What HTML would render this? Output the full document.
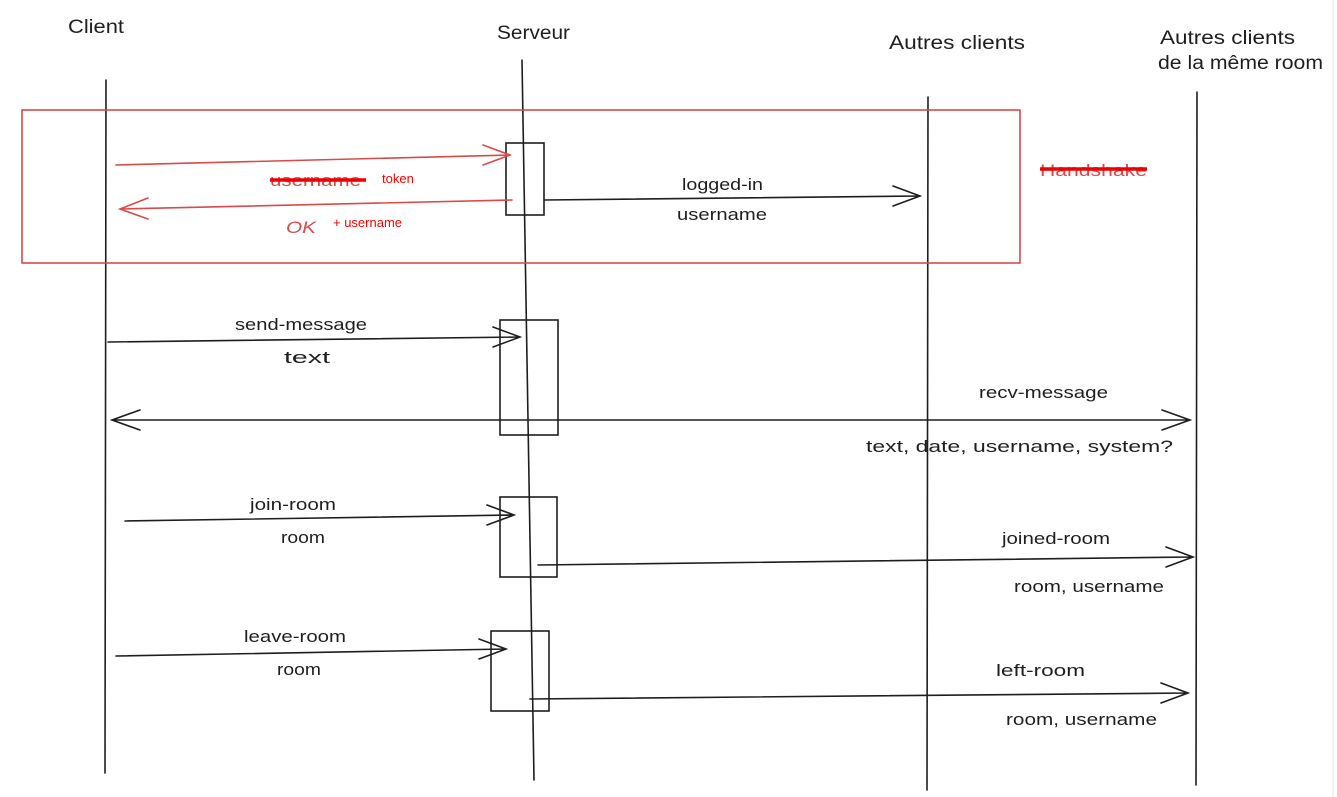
<!DOCTYPE html>
<html><head><meta charset="utf-8"><style>
html,body{margin:0;padding:0;background:#fff;width:1337px;height:797px;overflow:hidden}
svg text{font-family:"Liberation Sans",sans-serif}
</style></head><body>
<svg width="1337" height="797" xmlns="http://www.w3.org/2000/svg">
<g stroke="#1e1e1e" stroke-width="1.6" fill="none" stroke-linecap="round">
<line x1="106" y1="80" x2="105" y2="773"/>
<line x1="522" y1="60" x2="534" y2="780"/>
<line x1="928" y1="97" x2="927" y2="790"/>
<line x1="1197" y1="92" x2="1196" y2="785"/>
<rect x="506" y="143" width="38" height="72"/>
<rect x="500" y="320" width="58" height="115"/>
<rect x="500" y="497" width="57" height="80"/>
<rect x="491" y="631" width="58" height="80"/>
<path d="M544 200 L920 196 M893 186 L920 196 L893 206"/>
<path d="M108 342 L520 337 M493 327 L520 337 L493 347"/>
<path d="M112 420 L1190 420 M140 410 L112 420 L140 430 M1162 410 L1190 420 L1162 430"/>
<path d="M125 521 L514 515 M487 505 L514 515 L487 525"/>
<path d="M538 565 L1193 557 M1166 547 L1193 557 L1166 567"/>
<path d="M116 656 L506 649 M479 639 L506 649 L479 659"/>
<path d="M530 699 L1188 693 M1161 683 L1188 693 L1161 703"/>
</g>
<line x1="1333" y1="0" x2="1333" y2="797" stroke="#e5e5e5" stroke-width="1"/>
<g stroke="#d94a4a" stroke-width="1.6" fill="none" stroke-linecap="round">
<rect x="22" y="110" width="998" height="153"/>
<path d="M116 165 L510 155 M483 145 L510 155 L483 165"/>
<path d="M512 200 L120 209 M148 198 L120 209 L148 219"/>
</g>
<g font-size="19" fill="#1e1e1e" lengthAdjust="spacingAndGlyphs">
<text x="68" y="33" textLength="56" lengthAdjust="spacingAndGlyphs">Client</text>
<text x="497" y="39" textLength="73" lengthAdjust="spacingAndGlyphs">Serveur</text>
<text x="889" y="49" textLength="136" lengthAdjust="spacingAndGlyphs">Autres clients</text>
<text x="1160" y="44" textLength="135" lengthAdjust="spacingAndGlyphs">Autres clients</text>
<text x="1158" y="69" textLength="165" lengthAdjust="spacingAndGlyphs">de la même room</text>
</g>
<g font-size="17" fill="#1e1e1e">
<text x="682" y="190" textLength="81" lengthAdjust="spacingAndGlyphs">logged-in</text>
<text x="677" y="220" textLength="90" lengthAdjust="spacingAndGlyphs">username</text>
<text x="235" y="330" textLength="132" lengthAdjust="spacingAndGlyphs">send-message</text>
<text x="284" y="363" textLength="46" lengthAdjust="spacingAndGlyphs">text</text>
<text x="979" y="398" textLength="129" lengthAdjust="spacingAndGlyphs">recv-message</text>
<text x="866" y="452" textLength="307" lengthAdjust="spacingAndGlyphs">text, date, username, system?</text>
<text x="250" y="510" textLength="86" lengthAdjust="spacingAndGlyphs">join-room</text>
<text x="281" y="543" textLength="44" lengthAdjust="spacingAndGlyphs">room</text>
<text x="1002" y="544" textLength="108" lengthAdjust="spacingAndGlyphs">joined-room</text>
<text x="1014" y="592" textLength="150" lengthAdjust="spacingAndGlyphs">room, username</text>
<text x="244" y="642" textLength="102" lengthAdjust="spacingAndGlyphs">leave-room</text>
<text x="277" y="675" textLength="44" lengthAdjust="spacingAndGlyphs">room</text>
<text x="996" y="676" textLength="89" lengthAdjust="spacingAndGlyphs">left-room</text>
<text x="1006" y="725" textLength="151" lengthAdjust="spacingAndGlyphs">room, username</text>
</g>
<g fill="#d94a4a" font-size="17">
<text x="270" y="186" textLength="91" lengthAdjust="spacingAndGlyphs">username</text>
<text x="286" y="233" textLength="30" lengthAdjust="spacingAndGlyphs" font-style="italic">OK</text>
<text x="1040" y="176" textLength="107" lengthAdjust="spacingAndGlyphs">Handshake</text>
</g>
<line x1="270" y1="180" x2="366" y2="180" stroke="#e00" stroke-width="3.5"/>
<line x1="1040" y1="169" x2="1147" y2="169" stroke="#e00" stroke-width="3.5"/>
<text x="382" y="183" font-size="13" fill="#f00">token</text>
<text x="333" y="227" font-size="13" fill="#f00">+ username</text>
</svg>
</body></html>
